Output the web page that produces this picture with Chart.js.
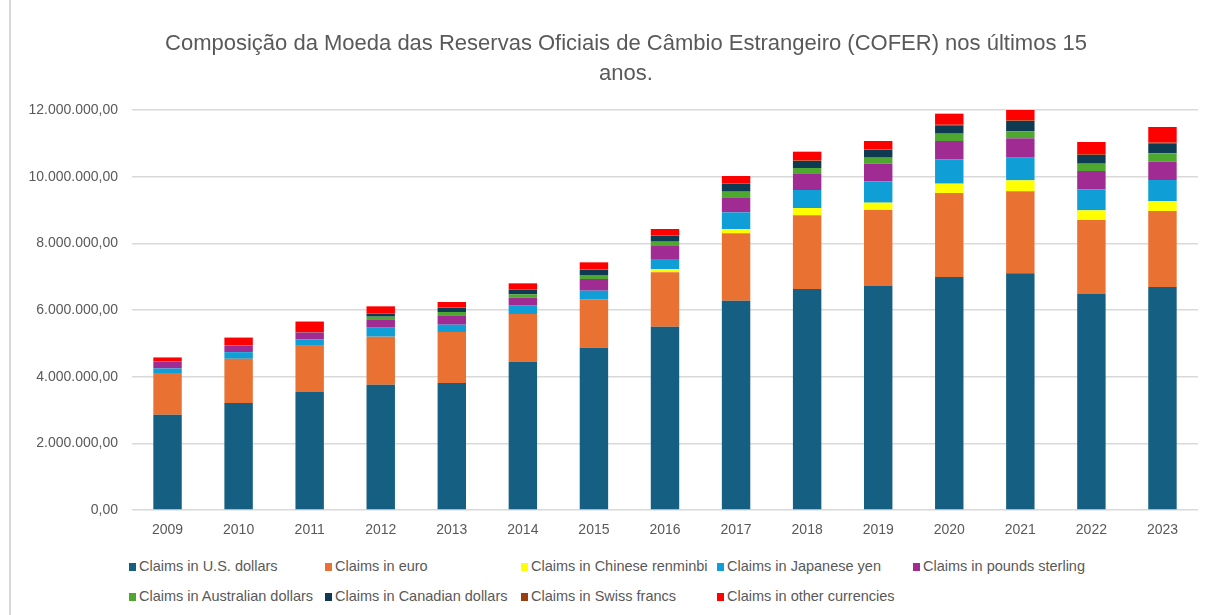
<!DOCTYPE html>
<html>
<head>
<meta charset="utf-8">
<script src="https://cdn.jsdelivr.net/npm/chart.js@4"></script>
<style>
  html, body { margin: 0; padding: 0; background: #fff; }
  body { width: 1205px; height: 615px; overflow: hidden; position: relative; font-family: "Liberation Sans", Arial, sans-serif; }
  #frame { position: absolute; left: 9px; top: 0; width: 1236px; height: 615px; border-left: 2px solid #D9D9D9; }
  #wrap { position: absolute; left: 0; top: 0; width: 1234px; height: 548px; }
  #title { position: absolute; left: 11px; top: 28px; width: 1230px; text-align: center; font-size: 22px; line-height: 30px; color: #595959; }
  #legend { position: absolute; left: 129px; top: 556px; display: grid; grid-template-columns: repeat(5, 196px); grid-auto-rows: 30px; }
  #legend div { font-size: 14.5px; color: #595959; line-height: 20px; white-space: nowrap; }
  #legend span { display: inline-block; width: 7px; height: 8px; margin-right: 3px; }
</style>
</head>
<body>
<div id="frame">
  <div id="wrap"><canvas id="myChart"></canvas></div>
</div>
<div id="title">Composição da Moeda das Reservas Oficiais de Câmbio Estrangeiro (COFER) nos últimos 15<br>anos.</div>
<div id="legend"></div>
<script>
const years = ["2009","2010","2011","2012","2013","2014","2015","2016","2017","2018","2019","2020","2021","2022","2023"];

const usd   = [2860000, 3210000, 3540000, 3760000, 3810000, 4450000, 4870000, 5500000, 6280000, 6630000, 6720000, 6990000, 7100000, 6480000, 6690000];
const eur   = [1250000, 1326000, 1386000, 1440000, 1530000, 1430000, 1440000, 1630000, 2020000, 2210000, 2280000, 2520000, 2460000, 2220000, 2280000];
const cny   = [0, 0, 0, 0, 0, 0, 0, 90000, 130000, 220000, 220000, 280000, 330000, 290000, 290000];
const jpy   = [137000, 200000, 189000, 270000, 220000, 250000, 270000, 310000, 500000, 540000, 640000, 730000, 680000, 630000, 640000];
const gbp   = [210000, 197000, 209000, 250000, 280000, 240000, 350000, 390000, 450000, 500000, 530000, 550000, 580000, 550000, 550000];
const aud   = [0, 0, 0, 80000, 100000, 100000, 120000, 130000, 170000, 160000, 180000, 220000, 210000, 220000, 250000];
const cad   = [0, 0, 0, 90000, 120000, 140000, 150000, 180000, 240000, 210000, 230000, 250000, 310000, 260000, 300000];
const chf   = [10000, 12000, 15000, 18000, 20000, 18000, 17000, 16000, 18000, 17000, 16000, 18000, 20000, 23000, 21000];
const other = [110000, 228000, 315000, 202000, 160000, 172000, 213000, 184000, 212000, 263000, 254000, 332000, 370000, 367000, 469000];

const yMax = 12000000;
const yStep = 2000000;

const series = [
  ["Claims in U.S. dollars", usd, "#156082"],
  ["Claims in euro", eur, "#E97132"],
  ["Claims in Chinese renminbi", cny, "#FFFF00"],
  ["Claims in Japanese yen", jpy, "#0F9ED5"],
  ["Claims in pounds sterling", gbp, "#A02B93"],
  ["Claims in Australian dollars", aud, "#4EA72E"],
  ["Claims in Canadian dollars", cad, "#0E3A52"],
  ["Claims in Swiss francs", chf, "#9C3F0F"],
  ["Claims in other currencies", other, "#FF0000"]
];

function fmtBR(v) {
  const s = Math.round(v).toString().replace(/\B(?=(\d{3})+(?!\d))/g, ".");
  return s + ",00";
}

const fontFam = "'Liberation Sans', Arial, sans-serif";
const grey = "#595959";

// legend as html, two rows like excel
const legend = document.getElementById("legend");
series.forEach(s => {
  const d = document.createElement("div");
  d.innerHTML = '<span style="background:' + s[2] + '"></span>' + s[0];
  legend.appendChild(d);
});

const ctx = document.getElementById("myChart").getContext("2d");
new Chart(ctx, {
  type: "bar",
  data: {
    labels: years,
    datasets: series.map(s => ({
      label: s[0],
      data: s[1],
      backgroundColor: s[2],
      borderWidth: 0,
      categoryPercentage: 1,
      barPercentage: 0.4
    }))
  },
  options: {
    responsive: true,
    maintainAspectRatio: false,
    animation: false,
    layout: { padding: { left: 0, right: 47, top: 110, bottom: 0 } },
    plugins: {
      legend: { display: false },
      tooltip: { enabled: false },
      title: { display: false }
    },
    scales: {
      x: {
        stacked: true,
        grid: { display: false, drawTicks: false },
        border: { display: false },
        ticks: { color: grey, font: { family: fontFam, size: 14 }, padding: 12 },
        afterFit: s => { s.height = 38; }
      },
      y: {
        stacked: true,
        min: 0,
        max: yMax,
        grid: { color: "#D9D9D9", lineWidth: 1.5, drawTicks: false },
        border: { display: false },
        ticks: {
          stepSize: yStep,
          color: grey,
          font: { family: fontFam, size: 14 },
          padding: 14,
          callback: v => fmtBR(v)
        },
        afterFit: s => { s.width = 121; }
      }
    }
  }
});
</script>
</body>
</html>
